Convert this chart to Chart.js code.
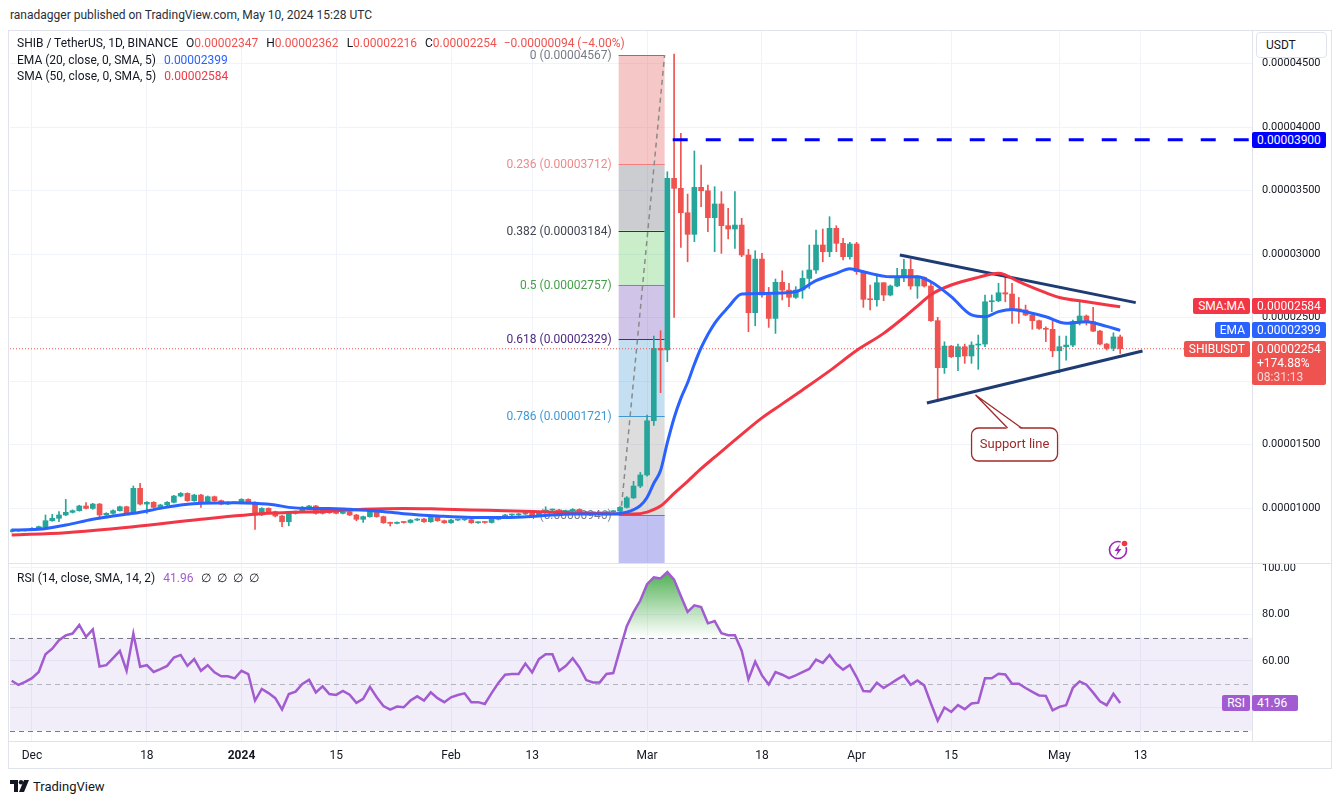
<!DOCTYPE html>
<html>
<head>
<meta charset="utf-8">
<title>SHIB / TetherUS, 1D, BINANCE</title>
<script src="https://cdn.jsdelivr.net/npm/chart.js@4.4.1/dist/chart.umd.min.js"></script>
<style>
  html, body { margin: 0; background: #fff; }
  #wrap { position: relative; width: 1341px; height: 805px; overflow: hidden;
          font-family: Roboto, "Noto Sans", sans-serif; color: #131722; }
  #frame { position: absolute; left: 8px; top: 30px; width: 1324px; height: 739px;
           box-sizing: border-box; border: 1px solid #e0e3eb; }
  .hline { position: absolute; left: 9px; width: 1322px; height: 1px; background: #e0e3eb; }
  canvas { position: absolute; }
  #price { left: 10px; top: 31px; }
  #rsi { left: 10px; top: 564px; }
  .txt { position: absolute; white-space: nowrap; font-size: 12px; line-height: 16px; }
  .txt .k { margin-left: 8px; }
  .dn { color: #ef5350; }
  .tag { position: absolute; height: 16px; line-height: 16px; font-size: 12px; color: #fff;
         padding: 0 5px; white-space: nowrap; box-sizing: border-box; border-radius: 2px; }
  #usdt { position: absolute; left: 1256px; top: 32px; width: 71px; height: 26px; box-sizing: border-box;
          border: 1px solid #e0e3eb; border-radius: 4px; background: #fff; font-size: 12px;
          line-height: 24px; padding-left: 9px; }
  #logo { position: absolute; left: 10px; top: 779px; font-size: 13px; line-height: 16px; }
  #logo svg { vertical-align: -2px; margin-right: 3px; }
</style>
</head>
<body>
<div id="wrap">
  <div class="txt" style="left:10px;top:7px;color:#2a2e39">ranadagger published on TradingView.com, May 10, 2024 15:28 UTC</div>
  <div id="frame"></div>
  <canvas id="price" width="1322" height="532"></canvas>
  <div class="hline" style="top:563px"></div>
  <canvas id="rsi" width="1322" height="205"></canvas>
  <div class="hline" style="top:741px"></div>

  <div class="txt" style="left:17px;top:35px">SHIB / TetherUS, 1D, BINANCE<span class="k">O</span><span class="dn">0.00002347</span><span class="k">H</span><span class="dn">0.00002362</span><span class="k">L</span><span class="dn">0.00002216</span><span class="k">C</span><span class="dn">0.00002254</span><span class="dn" style="margin-left:7px">−0.00000094 (−4.00%)</span></div>
  <div class="txt" style="left:17px;top:52px">EMA (20, close, 0, SMA, 5)<span style="margin-left:8px;color:#2962ff">0.00002399</span></div>
  <div class="txt" style="left:17px;top:68px">SMA (50, close, 0, SMA, 5)<span style="margin-left:8px;color:#f23645">0.00002584</span></div>
  <div class="txt" style="left:17px;top:570px">RSI (14, close, SMA, 14, 2)<span style="margin-left:8px;color:#a25bd0">41.96</span><span style="margin-left:8px">∅&nbsp; ∅&nbsp; ∅&nbsp; ∅</span></div>

  <div id="usdt">USDT</div>
  <div id="tags"></div>

  <div id="logo"><svg width="20" height="13" viewBox="0 0 20 13"><path d="M0 0h8v12H4V4H0z" fill="#131722"/><circle cx="11" cy="2.2" r="2.2" fill="#131722"/><path d="M14 0h5l-5 12H9z" fill="#131722"/></svg>TradingView</div>
</div>

<script>
// day 0 = 2023-11-28, one candle per day up to 2024-05-10 (day 164)
// prices are in units of 1e-8 USDT
const opens = [
  814,827,821,827,840,853,900,919,945,966,
  979,1016,997,1031,945,958,979,1010,958,1155,
  1031,1045,1005,1024,1045,1094,1115,1058,1102,1050,
  1089,1058,1031,1042,1040,1068,1042,945,997,971,
  937,892,958,971,1005,1016,958,984,963,958,
  971,945,911,932,979,932,884,879,887,886,
  905,913,892,926,900,884,905,907,908,884,
  887,886,911,926,945,946,953,963,937,971,
  984,985,953,979,989,966,963,962,961,971,
  975,1005,1080,1173,1260,1687,2257,2244,3596,3517,
  3325,3155,3525,3498,3286,3394,3223,3197,3228,2992,
  2538,2960,2677,2493,2777,2716,2659,2716,2808,2874,
  3071,3018,3202,3084,2979,3079,2861,2643,2640,2774,
  2677,2748,2821,2879,2748,2816,2748,2475,2105,2275,
  2191,2270,2197,2283,2291,2624,2632,2695,2685,2564,
  2560,2519,2475,2414,2407,2238,2270,2283,2467,2512,
  2467,2393,2291,2257,2347
];
const highs = [
  833,830,832,845,858,945,950,971,1068,985,
  1022,1042,1037,1036,963,985,1016,1014,1173,1194,
  1050,1050,1030,1050,1100,1122,1120,1108,1108,1095,
  1094,1063,1048,1047,1074,1073,1048,1003,1002,976,
  942,964,977,1012,1022,1021,990,989,968,977,
  976,950,937,985,984,937,889,892,892,910,
  918,918,931,931,905,910,912,913,913,892,
  892,916,931,950,952,958,968,968,976,1010,
  992,990,984,995,994,971,968,967,976,980,
  1012,1090,1210,1280,1732,2354,2396,3648,4575,3950,
  3472,3811,3701,3543,3530,3491,3359,3491,3281,3037,
  3026,3005,2737,2803,2868,2769,2743,2868,3071,3189,
  3197,3294,3223,3123,3092,3092,2868,2756,2842,2774,
  2756,2887,2958,2958,2830,2820,2769,2501,2309,2280,
  2291,2291,2309,2362,2677,2677,2769,2821,2769,2658,
  2598,2525,2480,2427,2475,2354,2354,2480,2637,2520,
  2580,2400,2296,2380,2362
];
const lows = [
  810,815,818,823,835,848,895,892,940,960,
  975,992,990,913,940,952,975,952,953,1025,
  958,1000,1000,1018,1040,1088,1052,1052,1005,1045,
  1052,1025,1026,1035,1035,1037,832,940,965,930,
  853,860,952,965,1000,952,952,957,953,953,
  940,900,887,927,927,879,858,874,881,881,
  900,887,887,895,879,879,900,902,879,879,
  881,881,906,921,940,941,948,932,932,966,
  979,948,948,974,961,958,957,956,956,966,
  968,1000,1075,1160,1250,1650,1908,2152,2500,3052,
  2939,3097,3372,3176,3018,3005,3118,3045,2979,2388,
  2435,2660,2422,2375,2638,2585,2650,2651,2729,2848,
  2939,2979,3018,2953,2960,2840,2580,2559,2590,2632,
  2670,2742,2782,2722,2651,2740,2470,1837,2060,2185,
  2081,2139,2139,2092,2270,2546,2624,2624,2454,2454,
  2515,2407,2407,2309,2191,2065,2165,2270,2441,2441,
  2388,2285,2244,2238,2216
];
const closes = [
  827,821,827,840,853,900,919,945,966,979,
  1016,997,1031,945,958,979,1010,958,1155,1031,
  1045,1005,1024,1045,1094,1115,1058,1102,1050,1089,
  1058,1031,1042,1040,1068,1042,945,997,971,937,
  892,958,971,1005,1016,958,984,963,958,971,
  945,911,932,979,932,884,879,887,886,905,
  913,892,926,900,884,905,907,908,884,887,
  886,911,926,945,946,953,963,937,971,984,
  985,953,979,989,966,963,962,961,971,975,
  1005,1080,1173,1260,1687,2257,2244,3596,3517,3325,
  3155,3525,3498,3286,3394,3223,3197,3228,2992,2538,
  2960,2677,2493,2777,2716,2659,2716,2808,2874,3071,
  3018,3202,3084,2979,3079,2861,2643,2640,2774,2677,
  2748,2821,2879,2748,2816,2748,2475,2105,2275,2191,
  2270,2197,2283,2291,2624,2632,2695,2685,2564,2560,
  2519,2475,2414,2407,2238,2270,2283,2467,2512,2467,
  2393,2291,2257,2347,2254
];
const rsiVals = [
  51.5,49.7,51,52.6,55.3,62.9,65.3,68.9,71,71.8,
  75.5,70.4,73.6,57.6,58.2,61.2,64.3,55.8,71.8,57.5,
  58.2,55.3,56.5,57.9,61.5,62.6,57.9,60.8,55.8,58.2,
  55.1,53.4,53.4,52.5,55.8,54.4,43,48,46.2,44,
  39.1,45.8,46.8,50.1,51.9,46.5,49.1,45.8,45.4,47.1,
  45.5,42,43.7,48.9,44.4,40.6,39.1,40.4,40.1,43,
  44.8,43,46.5,44,42.3,44.4,45.4,46.1,42.3,42.3,
  41.5,46.2,50.5,54.1,54.4,54.4,58.9,55.1,60.8,62.9,
  62.9,55.8,57.9,61.2,57.2,51.8,50.8,50.8,54.4,54.8,
  65,75,81,86,93,96,95.5,98.2,95,87.9,
  81.1,83.9,83.2,76.2,77.2,72,71.1,71.1,64.4,52.1,
  59.7,53.8,49.9,55.2,54.1,52.6,53.8,55.2,56.6,60.6,
  59.2,62.6,58.7,56.3,58.3,53.1,47.1,46.9,50.6,48.4,
  50.2,52.1,53.8,49.8,51.6,49.5,41.7,34.3,40,38.1,
  41,39.3,41.7,42.1,52.6,52.6,54.5,54.2,50.2,50.2,
  48.4,46.7,45.2,45,38.8,40.3,41,48.5,51.2,49.8,
  46.4,42.7,41,45.9,41.96
];

// EMA 20 / SMA 50
const emaDays = [0,4,8,12,15,18,22,25,28,33,36,39,41,44,47,50,54,58,63,68,73,78,83,88,91,93,94,95,96,97,98,99,100,101,102,104,106,108,111,116,119,122,124,126,130,134,136,139,142,144,146,148,150,153,156,159,162,164];
const emaVals = [827,832,866,911,937,958,997,1024,1037,1042,1037,1024,1005,997,997,990,977,955,937,926,926,937,953,953,968,1019,1083,1195,1295,1514,1709,1863,1986,2132,2262,2454,2580,2685,2690,2703,2790,2848,2884,2860,2821,2821,2782,2664,2520,2506,2546,2564,2546,2506,2454,2467,2430,2399];
const smaDays = [0,8,18,28,38,47,52,58,63,68,73,78,83,88,92,94,96,98,100,102,104,108,111,114,117,121,125,129,132,134,136,139,143,146,149,152,155,159,164];
const smaVals = [787,806,853,911,958,975,990,997,992,984,979,971,962,955,952,968,1015,1115,1210,1310,1400,1580,1710,1820,1930,2080,2240,2375,2500,2590,2680,2756,2816,2848,2782,2716,2658,2624,2584];

const tickDays = [3,20,34,48,65,77,94,111,125,139,155,167];
const tickLabels = ['Dec','18','2024','15','Feb','13','Mar','18','Apr','15','May','13'];
const priceTicks = [1000,1500,2000,2500,3000,3500,4000,4500];
const rsiTicks = [40,60,80,100];
const rsiLevels = [70,50,30];

// Fibonacci retracement drawn over the March rally
const fibRatios = ['0','0.236','0.382','0.5','0.618','0.786','1'];
const fibPrices = [4567,3712,3184,2757,2329,1721,946];
const fibSpan = [89.8,96.6];
const fibTrend = [[90.1,946],[96.6,4567]];

// hand drawings
const resistance = 3900;
const resistanceFrom = 97.8;
const trendUpper = [[131.4,2992],[166.3,2617]];
const trendLower = [[135.4,1827],[167.3,2236]];
const calloutAt = [142.6,1890];

const FONT = 'Roboto, "Noto Sans", sans-serif';
const UP = '#26a69a', DOWN = '#ef5350', GRID = '#f0f3fa';
const EMA_C = '#2962ff', SMA_C = '#f23645', RSI_C = '#a25bd0', TREND_C = '#1f3b73';
const X_MIN = -0.25, X_MAX = 183.5;
const fmtPrice = v => (v / 1e8).toFixed(8);

const fibFills = ['rgba(228,80,80,0.32)','rgba(120,123,134,0.38)','rgba(76,200,76,0.30)',
                  'rgba(103,58,183,0.30)','rgba(60,150,210,0.30)','rgba(128,128,128,0.27)','rgba(90,90,220,0.38)'];
const fibLineColors = ['#787b86','#f77c80','#333333','#4caf50','#4a2a80','#3d9ad5','#787b86'];
const fibTextColors = ['#787b86','#f08a8a','#434651','#43a047','#4a2a80','#3d9ad5','#787b86'];

const days = closes.map((_, i) => i);
const candleColors = days.map(i => closes[i] >= opens[i] ? UP : DOWN);
const pts = (xs, ys) => xs.map((x, i) => ({x: x, y: ys[i]}));
const seg = arr => arr.map(p => ({x: p[0], y: p[1]}));

const fixedX = (s, h) => { s.height = h; s.paddingLeft = 0; s.paddingRight = 0; };
const fixedY = s => { s.width = 80; s.paddingTop = 0; s.paddingBottom = 0; };

const notesPlugin = {
  id: 'notes',
  beforeDatasetsDraw(chart) {
    const {ctx, chartArea: a, scales: {x, y}} = chart;
    const x1 = x.getPixelForValue(fibSpan[0]), x2 = x.getPixelForValue(fibSpan[1]);
    ctx.save();
    ctx.beginPath(); ctx.rect(a.left, a.top, a.width, a.height); ctx.clip();
    fibPrices.forEach((p, i) => {
      const top = y.getPixelForValue(p);
      const bot = i + 1 < fibPrices.length ? y.getPixelForValue(fibPrices[i + 1]) : a.bottom;
      ctx.fillStyle = fibFills[i];
      ctx.fillRect(x1, top, x2 - x1, bot - top);
    });
    ctx.font = '12px ' + FONT;
    ctx.textAlign = 'right';
    ctx.textBaseline = 'middle';
    fibPrices.forEach((p, i) => {
      const py = Math.round(y.getPixelForValue(p)) + 0.5;
      ctx.strokeStyle = fibLineColors[i];
      ctx.lineWidth = 1;
      ctx.beginPath(); ctx.moveTo(x1, py); ctx.lineTo(x2, py); ctx.stroke();
      ctx.fillStyle = fibTextColors[i];
      ctx.fillText(fibRatios[i] + ' (' + fmtPrice(p) + ')', x1 - 7, py);
    });
    ctx.restore();
  },
  afterDatasetsDraw(chart) {
    const {ctx, chartArea: a, scales: {x, y}} = chart;
    // "Support line" callout
    const tx = x.getPixelForValue(calloutAt[0]), ty = y.getPixelForValue(calloutAt[1]);
    const bx = tx - 4, by = ty + 33, bw = 86, bh = 33;
    ctx.save();
    ctx.strokeStyle = '#a02a2a';
    ctx.fillStyle = '#fff';
    ctx.lineWidth = 1.3;
    ctx.beginPath(); ctx.roundRect(bx, by, bw, bh, 7); ctx.fill(); ctx.stroke();
    ctx.beginPath();
    ctx.moveTo(tx + 32, by + 1.5); ctx.lineTo(tx, ty); ctx.lineTo(tx + 46, by + 1.5);
    ctx.closePath(); ctx.fill();
    ctx.beginPath();
    ctx.moveTo(tx + 32, by); ctx.lineTo(tx, ty); ctx.lineTo(tx + 46, by);
    ctx.stroke();
    ctx.fillStyle = '#a02a2a';
    ctx.font = '13px ' + FONT;
    ctx.textAlign = 'center';
    ctx.textBaseline = 'middle';
    ctx.fillText('Support line', bx + bw / 2, by + bh / 2 + 0.5);

    // lightning badge
    const cx = a.right - 134, cy = a.bottom - 13;
    ctx.strokeStyle = '#9c27b0';
    ctx.lineWidth = 1.6;
    ctx.beginPath(); ctx.arc(cx, cy, 8.5, 0, Math.PI * 2); ctx.stroke();
    ctx.fillStyle = '#9c27b0';
    ctx.beginPath();
    ctx.moveTo(cx + 2, cy - 6); ctx.lineTo(cx - 3.5, cy + 1); ctx.lineTo(cx - 0.3, cy + 1);
    ctx.lineTo(cx - 2, cy + 6); ctx.lineTo(cx + 3.5, cy - 1); ctx.lineTo(cx + 0.3, cy - 1);
    ctx.closePath(); ctx.fill();
    ctx.fillStyle = '#fff';
    ctx.beginPath(); ctx.arc(cx + 6.5, cy - 6.5, 4, 0, Math.PI * 2); ctx.fill();
    ctx.fillStyle = '#f23645';
    ctx.beginPath(); ctx.arc(cx + 6.5, cy - 6.5, 2.8, 0, Math.PI * 2); ctx.fill();
    ctx.restore();
  }
};

const priceChart = new Chart(document.getElementById('price'), {
  type: 'bar',
  data: {
    datasets: [
      { type: 'line', label: 'EMA 20', data: pts(emaDays, emaVals), borderColor: EMA_C, borderWidth: 3,
        pointRadius: 0, cubicInterpolationMode: 'monotone', order: 0 },
      { type: 'line', label: 'SMA 50', data: pts(smaDays, smaVals), borderColor: SMA_C, borderWidth: 3,
        pointRadius: 0, cubicInterpolationMode: 'monotone', order: 0 },
      { type: 'line', label: 'Resistance', data: seg([[resistanceFrom, resistance], [X_MAX, resistance]]),
        borderColor: '#0000ff', borderWidth: 3, borderDash: [15, 18], pointRadius: 0, order: 0 },
      { type: 'line', label: 'Upper trendline', data: seg(trendUpper), borderColor: TREND_C, borderWidth: 3,
        pointRadius: 0, order: 0 },
      { type: 'line', label: 'Support line', data: seg(trendLower), borderColor: TREND_C, borderWidth: 3,
        pointRadius: 0, order: 0 },
      { type: 'line', label: 'Last price', data: seg([[X_MIN, closes[closes.length - 1]], [X_MAX, closes[closes.length - 1]]]),
        borderColor: DOWN, borderWidth: 1, borderDash: [1, 2], pointRadius: 0, order: 0 },
      { type: 'line', label: 'Fib trend', data: seg(fibTrend), borderColor: '#8a8a8a', borderWidth: 1.5,
        borderDash: [5, 4], pointRadius: 0, order: 3 },
      { label: 'Body', data: days.map(i => ({x: i, y: [opens[i], closes[i]]})), backgroundColor: candleColors,
        barThickness: 5, minBarLength: 1, grouped: false, order: 1 },
      { label: 'Wick', data: days.map(i => ({x: i, y: [lows[i], highs[i]]})), backgroundColor: candleColors,
        barThickness: 1, grouped: false, order: 2 }
    ]
  },
  options: {
    responsive: false,
    animation: false,
    layout: { padding: 0 },
    plugins: { legend: { display: false }, tooltip: { enabled: false } },
    scales: {
      x: {
        type: 'linear', min: X_MIN, max: X_MAX, offset: false,
        afterBuildTicks: s => { s.ticks = tickDays.map(v => ({value: v})); },
        afterFit: s => fixedX(s, 0),
        ticks: { display: false },
        grid: { color: GRID, drawTicks: false, offset: false },
        border: { display: false }
      },
      y: {
        position: 'right', min: 567, max: 4756,
        afterBuildTicks: s => { s.ticks = priceTicks.map(v => ({value: v})); },
        afterFit: fixedY,
        ticks: { callback: v => fmtPrice(v), color: '#131722', font: { size: 11, family: FONT }, padding: 10 },
        grid: { color: GRID, drawTicks: false },
        border: { display: true, color: '#e0e3eb' }
      }
    }
  },
  plugins: [notesPlugin]
});

const rsiBands = {
  id: 'rsiBands',
  beforeDatasetsDraw(chart) {
    const {ctx, chartArea: a, scales: {y}} = chart;
    const yTop = y.getPixelForValue(rsiLevels[0]), yBot = y.getPixelForValue(rsiLevels[2]);
    ctx.save();
    ctx.fillStyle = 'rgba(126,87,194,0.1)';
    ctx.fillRect(a.left, yTop, a.width, yBot - yTop);
    ctx.lineWidth = 1;
    ctx.setLineDash([5, 4]);
    rsiLevels.forEach((lv, i) => {
      const py = Math.round(y.getPixelForValue(lv)) + 0.5;
      ctx.strokeStyle = i === 1 ? '#b2b5be' : '#787b86';
      ctx.beginPath(); ctx.moveTo(a.left, py); ctx.lineTo(a.right, py); ctx.stroke();
    });
    ctx.restore();
  }
};

const rsiChart = new Chart(document.getElementById('rsi'), {
  type: 'line',
  data: {
    datasets: [{
      label: 'RSI', data: pts(days, rsiVals), borderColor: RSI_C, borderWidth: 2.5, pointRadius: 0,
      fill: { target: { value: 70 }, below: 'rgba(0,0,0,0)' },
      backgroundColor: c => {
        const {ctx, chartArea, scales} = c.chart;
        if (!chartArea) return 'rgba(0,0,0,0)';
        const g = ctx.createLinearGradient(0, scales.y.getPixelForValue(100), 0, scales.y.getPixelForValue(70));
        g.addColorStop(0, 'rgba(56,165,60,0.95)');
        g.addColorStop(1, 'rgba(76,175,80,0)');
        return g;
      }
    }]
  },
  options: {
    responsive: false,
    animation: false,
    layout: { padding: 0 },
    plugins: { legend: { display: false }, tooltip: { enabled: false } },
    scales: {
      x: {
        type: 'linear', min: X_MIN, max: X_MAX, offset: false,
        afterBuildTicks: s => { s.ticks = tickDays.map(v => ({value: v})); },
        afterFit: s => fixedX(s, 28),
        ticks: {
          autoSkip: false, maxRotation: 0, padding: 8, color: '#131722',
          callback: (v, i) => tickLabels[i],
          font: c => ({ size: 12, family: FONT, weight: /^\d{4}$/.test(tickLabels[c.index]) ? 'bold' : 'normal' })
        },
        grid: { color: GRID, drawTicks: false },
        border: { display: false }
      },
      y: {
        position: 'right', min: 25.6, max: 101.7,
        afterBuildTicks: s => { s.ticks = rsiTicks.map(v => ({value: v})); },
        afterFit: fixedY,
        ticks: { callback: v => v.toFixed(2), color: '#131722', font: { size: 11, family: FONT }, padding: 10 },
        grid: { color: GRID, drawTicks: false },
        border: { display: true, color: '#e0e3eb' }
      }
    }
  },
  plugins: [rsiBands]
});

// price-scale tags, placed with the charts' own scales
const tags = document.getElementById('tags');
function tag(html, bg, top, opts) {
  const d = document.createElement('div');
  d.className = 'tag';
  d.innerHTML = html;
  d.style.background = bg;
  d.style.top = top + 'px';
  if (opts.left != null) d.style.left = opts.left + 'px';
  if (opts.right != null) d.style.right = opts.right + 'px';
  if (opts.width) d.style.width = opts.width + 'px';
  if (opts.height) { d.style.height = opts.height + 'px'; d.style.lineHeight = '14px'; d.style.paddingTop = '1px'; }
  tags.appendChild(d);
}
const pY = v => 31 + priceChart.scales.y.getPixelForValue(v);
const rY = v => 564 + rsiChart.scales.y.getPixelForValue(v);
const lastClose = closes[closes.length - 1];
const lastEma = emaVals[emaVals.length - 1];
const lastSma = smaVals[smaVals.length - 1];
const lastRsi = rsiVals[rsiVals.length - 1];

tag(fmtPrice(resistance), '#0000ff', pY(resistance) - 8, { left: 1252, width: 74 });
tag('SMA:MA', SMA_C, pY(lastSma) - 9, { right: 91 });
tag(fmtPrice(lastSma), SMA_C, pY(lastSma) - 9, { left: 1252, width: 74 });
tag('EMA', EMA_C, pY(lastEma) - 8, { right: 91 });
tag(fmtPrice(lastEma), EMA_C, pY(lastEma) - 8, { left: 1252, width: 74 });
tag('SHIBUSDT', DOWN, pY(lastClose) - 8, { right: 91 });
tag(fmtPrice(lastClose) + '<br>+174.88%<br><span style="color:#fcd4d4">08:31:13</span>', DOWN,
    pY(lastClose) - 8, { left: 1252, width: 74, height: 44 });
tag('RSI', RSI_C, rY(lastRsi) - 8, { right: 91 });
tag(lastRsi.toFixed(2), RSI_C, rY(lastRsi) - 8, { left: 1252, width: 46 });
</script>
</body>
</html>
